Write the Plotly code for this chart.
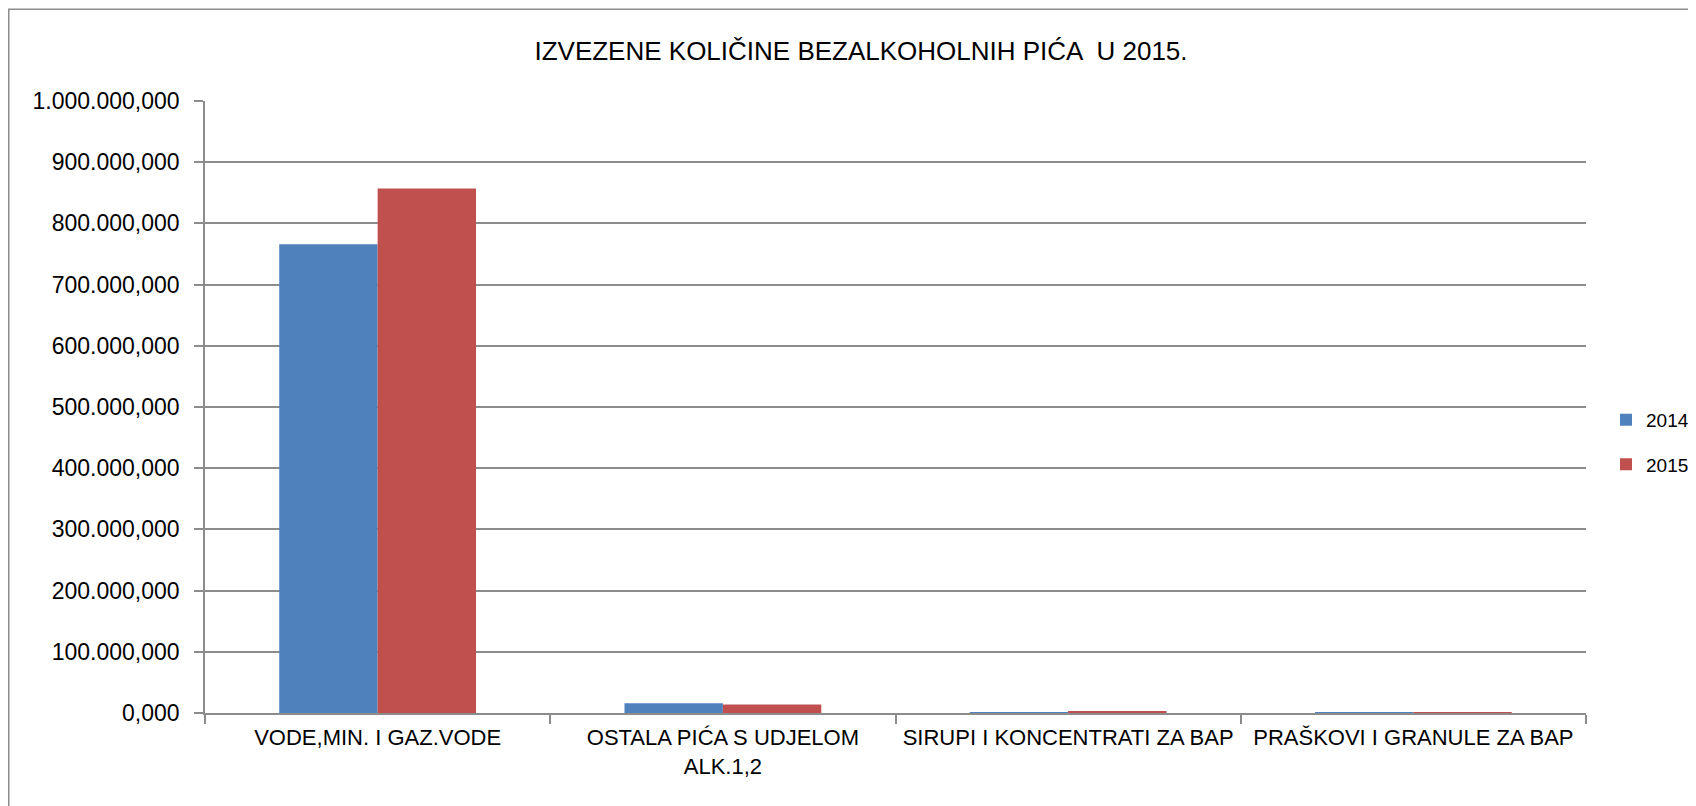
import plotly.graph_objects as go

categories = ["VODE,MIN. I GAZ.VODE", "OSTALA PIĆA S UDJELOM<br>ALK.1,2",
              "SIRUPI I KONCENTRATI ZA BAP", "PRAŠKOVI I GRANULE ZA BAP"]
values_2014 = [766100, 15800, 400, 400]
values_2015 = [857200, 13700, 2300, 500]
series_names = ["2014", "2015"]
title_text = "IZVEZENE KOLIČINE BEZALKOHOLNIH PIĆA  U 2015."
y_ticks = [0, 100000, 200000, 300000, 400000, 500000,
           600000, 700000, 800000, 900000, 1000000]

FONT = "Liberation Sans, Arial, sans-serif"
GRID = "#8c8c8c"

# the page body has an 8px margin; figure is sized to fit the window
W, H = 1688, 798
L, T = 197, 92.6
PR, PB = 1578, 704.8          # plot right / bottom in figure px
R, B = W - PR, H - PB
pw, ph = PR - L, PB - T

fig = go.Figure()
fig.add_trace(go.Bar(x=categories, y=values_2014, name=series_names[0],
                     marker=dict(color="#4F81BD", line=dict(width=0)),
                     legendgroup="a"))
fig.add_trace(go.Bar(x=categories, y=values_2015, name=series_names[1],
                     marker=dict(color="#C0504D", line=dict(width=0)),
                     legendgroup="b"))

fig.update_layout(
    width=W, height=H,
    margin=dict(l=L, r=R, t=T, b=B, autoexpand=False),
    paper_bgcolor="white", plot_bgcolor="white",
    separators=",.",
    barmode="group", bargap=0.43, bargroupgap=0,
    font=dict(family=FONT, color="black"),
    title=dict(text=title_text, x=853 / W, xanchor="center", xref="container",
               y=1 - 43 / H, yanchor="middle", yref="container",
               font=dict(size=26, family=FONT, color="black")),
    showlegend=True,
    legend=dict(x=(1598 - L) / pw, y=(PB - 434) / ph, xanchor="left", yanchor="middle",
                font=dict(size=19, family=FONT), traceorder="grouped",
                tracegroupgap=17, bgcolor="rgba(0,0,0,0)"),
    xaxis=dict(showgrid=False, showline=True, linecolor=GRID, linewidth=1.5,
               ticks="outside", tickson="boundaries", ticklen=9, tickcolor=GRID,
               tickwidth=1.5, tickfont=dict(size=22, family=FONT), fixedrange=True,
               automargin=False, ticklabelstandoff=4),
    yaxis=dict(range=[0, 1000000], tickvals=y_ticks, tickformat=",.3f",
               showgrid=True, gridcolor=GRID, gridwidth=1.5,
               showline=True, linecolor=GRID, linewidth=1.5,
               ticks="outside", ticklen=9, tickcolor=GRID, tickwidth=1.5,
               tickfont=dict(size=23, family=FONT), ticklabelstandoff=10,
               zeroline=False, automargin=False),
    shapes=[dict(type="rect", xref="paper", yref="paper",
                 x0=(0.75 - L) / pw, x1=(W + 20 - L) / pw,
                 y0=-(B + 20) / ph, y1=(PB - 0.75) / ph,
                 line=dict(color="#8c8c8c", width=1.5), fillcolor="rgba(0,0,0,0)",
                 layer="below")],
)

fig.write_html("out.html")
